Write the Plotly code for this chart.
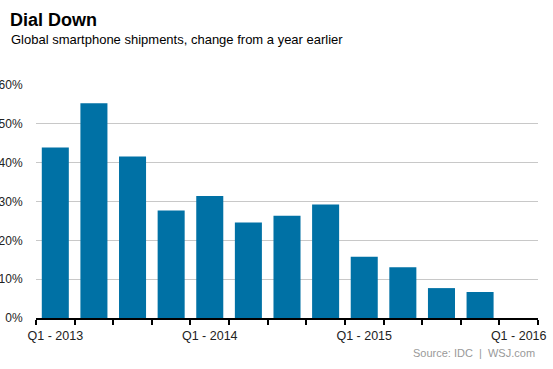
import plotly.graph_objects as go

quarters = ["Q1 - 2013", "Q2 - 2013", "Q3 - 2013", "Q4 - 2013",
            "Q1 - 2014", "Q2 - 2014", "Q3 - 2014", "Q4 - 2014",
            "Q1 - 2015", "Q2 - 2015", "Q3 - 2015", "Q4 - 2015",
            "Q1 - 2016"]
growth = [0.439, 0.553, 0.416, 0.277, 0.314, 0.246, 0.263, 0.292,
          0.158, 0.131, 0.077, 0.067, None]
shown_labels = ["Q1 - 2013", "Q1 - 2014", "Q1 - 2015", "Q1 - 2016"]
y_ticks = [0, 0.1, 0.2, 0.3, 0.4, 0.5, 0.6]

title = "Dial Down"
subtitle = "Global smartphone shipments, change from a year earlier"
source = "Source: IDC  |  WSJ.com"

W, H = 553, 369
L, R, T, B = 36, 15, 85, 51
PW, PH = W - L - R, H - T - B

def px(xp):
    return (xp - L) / PW

def py(yp):
    return (H - B - yp) / PH

idx = list(range(len(quarters)))
tick_idx = [quarters.index(q) for q in shown_labels]
bounds = [i - 0.5 for i in idx] + [len(quarters) - 0.5]

font = "Liberation Sans, Arial, sans-serif"

fig = go.Figure(go.Bar(x=idx, y=growth, marker_color="#0071A5",
                       marker_line_width=0, hoverinfo="skip"))

fig.update_layout(
    width=W, height=H, margin=dict(l=L, r=R, t=T, b=B, autoexpand=False),
    paper_bgcolor="white", plot_bgcolor="white",
    bargap=0.3, showlegend=False,
    font=dict(family=font, color="#222222"),
    xaxis=dict(range=[-0.5, len(quarters) - 0.5], automargin=False,
               tickvals=tick_idx, ticktext=shown_labels,
               ticks="outside", ticklen=5, tickcolor="rgba(0,0,0,0)",
               tickfont=dict(size=12.5, color="#222222"),
               showline=True, linecolor="black", linewidth=2,
               showgrid=False, zeroline=False,
               minor=dict(tickvals=bounds, ticks="outside", ticklen=5,
                          tickwidth=2, tickcolor="black", showgrid=False)),
    yaxis=dict(range=[0, 0.6], tickvals=y_ticks, tickformat=".0%", automargin=False,
               ticks="outside", ticklen=10, tickcolor="rgba(0,0,0,0)",
               tickfont=dict(size=12, color="#222222"),
               showgrid=True, gridcolor="#c8c8c8", gridwidth=1,
               zeroline=False, showline=False),
    annotations=[
        dict(text=f"<b>{title}</b>", x=px(8), y=py(19.5), xref="paper", yref="paper",
             xanchor="left", yanchor="middle", showarrow=False,
             font=dict(size=18, color="black", family=font)),
        dict(text=subtitle, x=px(9), y=py(39.5), xref="paper", yref="paper",
             xanchor="left", yanchor="middle", showarrow=False,
             font=dict(size=13, color="black", family=font)),
        dict(text=source, x=px(537), y=py(353), xref="paper", yref="paper",
             xanchor="right", yanchor="middle", showarrow=False,
             font=dict(size=11, color="#999999", family=font)),
    ],
)

fig.write_html("out.html", config={"displayModeBar": False},
               post_script="document.body.style.margin='0';document.body.style.overflow='hidden';")
